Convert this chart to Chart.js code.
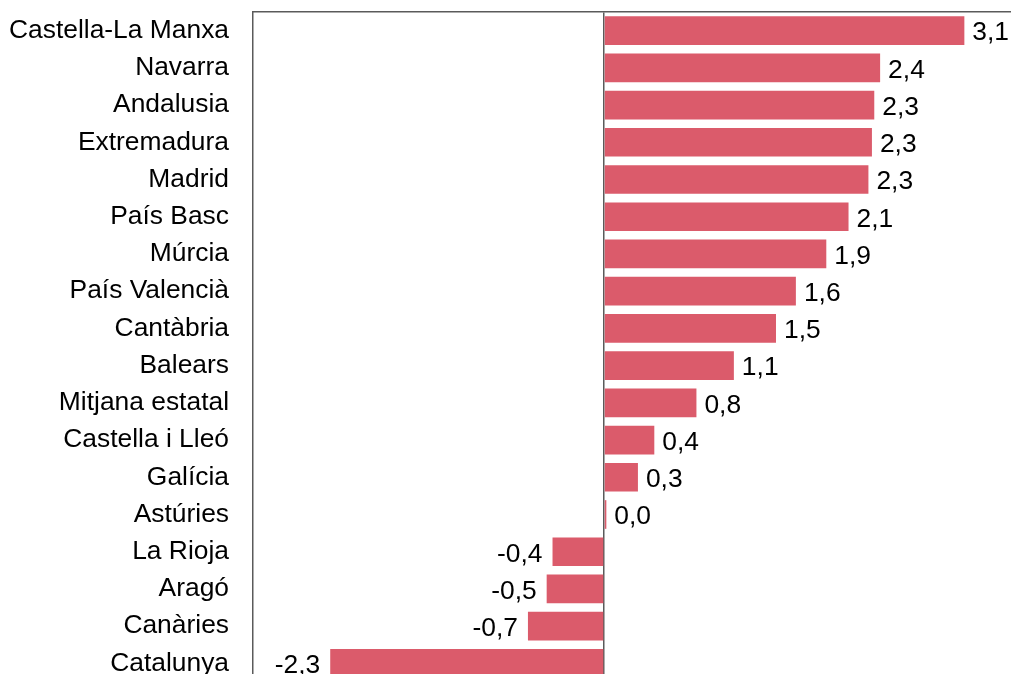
<!DOCTYPE html>
<html>
<head>
<meta charset="utf-8">
<script src="https://cdn.jsdelivr.net/npm/chart.js@4/dist/chart.umd.min.js"></script>
<style>
  html, body { margin: 0; padding: 0; background: #fff; overflow: hidden; }
  #wrap { width: 1011px; height: 674px; overflow: hidden; position: relative; }
  canvas { position: absolute; left: 0; top: 0; }
</style>
</head>
<body>
<div id="wrap"><canvas id="c" width="1072" height="682"></canvas></div>
<script>
// Regions, ordered from largest to smallest change
const regions = [
  'Castella-La Manxa', 'Navarra', 'Andalusia', 'Extremadura', 'Madrid',
  'País Basc', 'Múrcia', 'País Valencià', 'Cantàbria', 'Balears',
  'Mitjana estatal', 'Castella i Lleó', 'Galícia', 'Astúries',
  'La Rioja', 'Aragó', 'Canàries', 'Catalunya'
];
const changes = [
  3.08, 2.36, 2.31, 2.29, 2.26,
  2.09, 1.90, 1.64, 1.47, 1.11,
  0.79, 0.43, 0.29, 0.02,
  -0.44, -0.49, -0.65, -2.34
];
const xMin = -3;
const xMax = 4;

const FONT = '"Liberation Sans", Arial, sans-serif';
const FONT_SIZE = 26.4;
const AXIS_COLOR = '#5a5a5a';
const BAR_COLOR = '#db5b6b';

const fmt = v => v.toFixed(1).replace('.', ',');

// Writes each bar's value next to its end
const valueLabels = {
  id: 'valueLabels',
  afterDatasetsDraw(chart) {
    const ctx = chart.ctx;
    const meta = chart.getDatasetMeta(0);
    ctx.save();
    ctx.font = FONT_SIZE + 'px ' + FONT;
    ctx.fillStyle = '#000';
    ctx.textBaseline = 'middle';
    meta.data.forEach((bar, i) => {
      const v = chart.data.datasets[0].data[i];
      if (v >= 0) {
        ctx.textAlign = 'left';
        ctx.fillText(fmt(v), bar.x + 8, bar.y + 2.5);
      } else {
        ctx.textAlign = 'right';
        ctx.fillText(fmt(v), bar.x - 10, bar.y + 2.5);
      }
    });
    ctx.restore();
  }
};

new Chart(document.getElementById('c'), {
  type: 'bar',
  data: {
    labels: regions,
    datasets: [{
      data: changes,
      backgroundColor: BAR_COLOR,
      borderWidth: 0,
      categoryPercentage: 1,
      barPercentage: 0.77
    }]
  },
  options: {
    indexAxis: 'y',
    responsive: false,
    devicePixelRatio: 1,
    animation: false,
    layout: { padding: 0 },
    plugins: {
      legend: { display: false },
      tooltip: { enabled: false }
    },
    scales: {
      x: {
        position: 'top',
        min: xMin,
        max: xMax,
        ticks: { display: false, stepSize: 1 },
        grid: {
          drawTicks: false,
          lineWidth: 1.5,
          color: c => (c.tick && c.tick.value === 0) ? AXIS_COLOR : 'rgba(0,0,0,0)'
        },
        border: { display: true, color: AXIS_COLOR, width: 1.5 },
        afterFit: s => {
          s.height = 12;
          s.paddingLeft = 0; s.paddingRight = 0;
        }
      },
      y: {
        ticks: {
          color: '#000',
          padding: 24,
          font: { family: FONT, size: FONT_SIZE }
        },
        grid: { drawTicks: false, color: 'rgba(0,0,0,0)' },
        border: { display: true, color: AXIS_COLOR, width: 1.5 },
        afterFit: s => {
          s.width = 253;
          s.paddingTop = 0; s.paddingBottom = 0;
        }
      }
    }
  },
  plugins: [valueLabels]
});
</script>
</body>
</html>
